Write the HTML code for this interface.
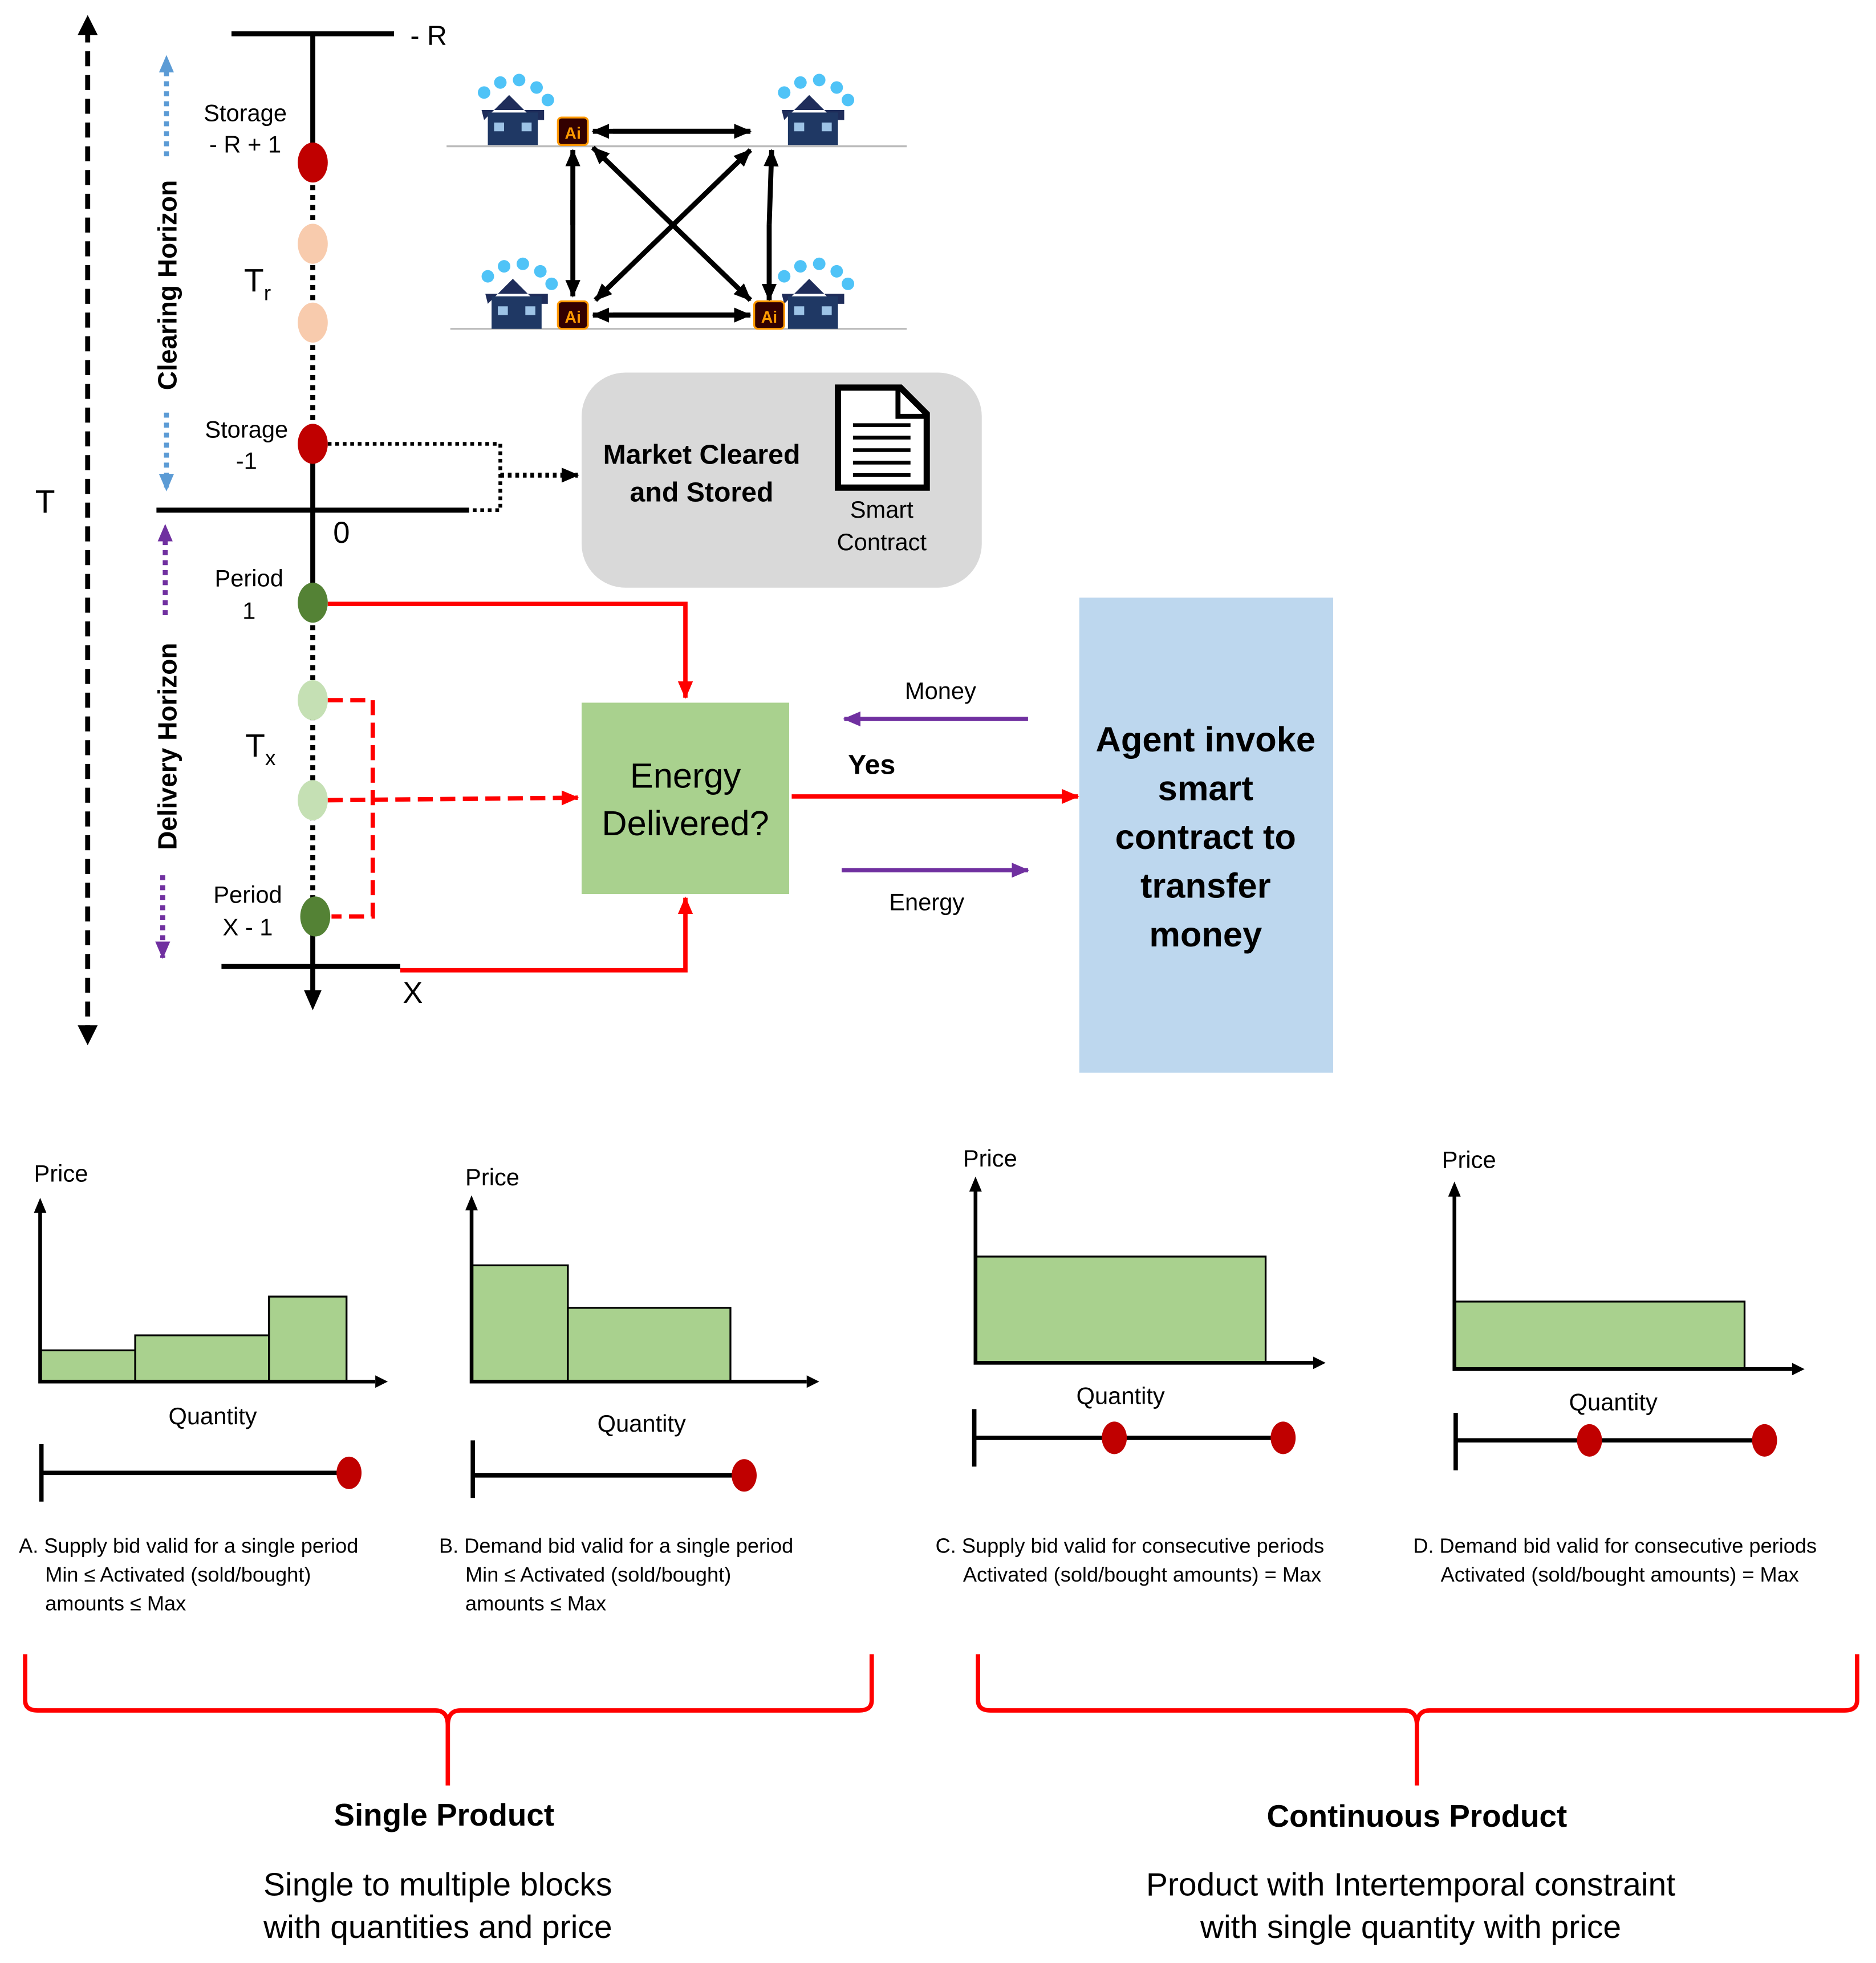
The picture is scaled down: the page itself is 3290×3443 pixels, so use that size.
<!DOCTYPE html>
<html><head><meta charset="utf-8"><style>
html,body{margin:0;padding:0;background:#fff}
svg{display:block}
text{font-family:"Liberation Sans",sans-serif}
</style></head><body>
<svg width="3290" height="3443" viewBox="0 0 1500 1570" xmlns="http://www.w3.org/2000/svg">
<defs>
<marker id="akL" markerWidth="14" markerHeight="12" refX="13" refY="6" orient="auto" markerUnits="userSpaceOnUse"><path d="M0,0 L14,6 L0,12z" fill="#000"/></marker>
<marker id="ar" markerWidth="14" markerHeight="12" refX="13" refY="6" orient="auto" markerUnits="userSpaceOnUse"><path d="M0,0 L14,6 L0,12z" fill="#f00"/></marker>
<marker id="ap" markerWidth="14" markerHeight="12" refX="13" refY="6" orient="auto" markerUnits="userSpaceOnUse"><path d="M0,0 L14,6 L0,12z" fill="#7030a0"/></marker>
<marker id="ab" markerWidth="14" markerHeight="12" refX="13" refY="6" orient="auto" markerUnits="userSpaceOnUse"><path d="M0,0 L14,6 L0,12z" fill="#5b9bd5"/></marker>
<g id="house">
<circle cx="-18" cy="-22" r="5" fill="#4fc3f7"/><circle cx="-5" cy="-30" r="5" fill="#4fc3f7"/><circle cx="10" cy="-32" r="5" fill="#4fc3f7"/><circle cx="24" cy="-26" r="5" fill="#4fc3f7"/><circle cx="33" cy="-16" r="5" fill="#4fc3f7"/>
<path d="M-18,0 L2,-20 L22,0 L30,0 L30,-8 L-20,-8z" fill="#1f2d5a"/>
<rect x="-15" y="-6" width="40" height="26" fill="#1f3864"/>
<rect x="-10" y="2" width="8" height="7" fill="#9dc3e6"/><rect x="12" y="2" width="8" height="7" fill="#9dc3e6"/>
</g>
<g id="ai"><rect x="-12" y="-11" width="24" height="22" rx="3" fill="#330000" stroke="#f90" stroke-width="1.5"/><text x="0" y="6" font-size="13" font-weight="bold" fill="#f90" text-anchor="middle">Ai</text></g>
</defs>

<line x1="70" y1="22" x2="70" y2="826" stroke="#000" stroke-width="4" stroke-dasharray="12,7"/>
<path d="M62,28 L70,12 L78,28z M62,820 L70,836 L78,820z" fill="#000"/>
<text x="36" y="410" font-size="26" text-anchor="middle">T</text>

<line x1="185" y1="27" x2="315" y2="27" stroke="#000" stroke-width="4"/>
<text x="328" y="36" font-size="22">- R</text>
<line x1="250" y1="27" x2="250" y2="118" stroke="#000" stroke-width="4"/>
<line x1="250" y1="140" x2="250" y2="345" stroke="#000" stroke-width="4" stroke-dasharray="4,4"/>
<line x1="250" y1="365" x2="250" y2="472" stroke="#000" stroke-width="4"/>
<line x1="250" y1="492" x2="250" y2="722" stroke="#000" stroke-width="4" stroke-dasharray="4,4"/>
<line x1="250" y1="745" x2="250" y2="795" stroke="#000" stroke-width="4"/>
<path d="M243,792 L250,808 L257,792z" fill="#000"/>
<line x1="125" y1="408" x2="375" y2="408" stroke="#000" stroke-width="4"/>
<text x="273" y="434" font-size="24" text-anchor="middle">0</text>
<line x1="177" y1="773" x2="320" y2="773" stroke="#000" stroke-width="4"/>
<text x="330" y="802" font-size="24" text-anchor="middle">X</text>

<line x1="133" y1="125" x2="133" y2="45" stroke="#5b9bd5" stroke-width="4" stroke-dasharray="4,4" marker-end="url(#ab)"/>
<line x1="133" y1="330" x2="133" y2="392" stroke="#5b9bd5" stroke-width="4" stroke-dasharray="4,4" marker-end="url(#ab)"/>
<text transform="translate(141,228) rotate(-90)" font-size="21" font-weight="bold" text-anchor="middle">Clearing Horizon</text>
<line x1="132" y1="492" x2="132" y2="420" stroke="#7030a0" stroke-width="4" stroke-dasharray="4,4" marker-end="url(#ap)"/>
<line x1="130" y1="700" x2="130" y2="766" stroke="#7030a0" stroke-width="4" stroke-dasharray="4,4" marker-end="url(#ap)"/>
<text transform="translate(141,597) rotate(-90)" font-size="21" font-weight="bold" text-anchor="middle">Delivery Horizon</text>

<g font-size="19" text-anchor="middle">
<text x="196" y="97">Storage</text><text x="196" y="122">- R + 1</text>
<text x="197" y="350">Storage</text><text x="197" y="375">-1</text>
<text x="199" y="469">Period</text><text x="199" y="495">1</text>
<text x="198" y="722">Period</text><text x="198" y="748">X - 1</text>
</g>
<text x="195" y="233" font-size="26">T<tspan font-size="17" dy="7">r</tspan></text>
<text x="196" y="605" font-size="26">T<tspan font-size="17" dy="7">x</tspan></text>

<ellipse cx="250" cy="130" rx="12" ry="16" fill="#c00000"/>
<ellipse cx="250" cy="355" rx="12" ry="16" fill="#c00000"/>
<ellipse cx="250" cy="195" rx="12" ry="16" fill="#f8cbad"/>
<ellipse cx="250" cy="258" rx="12" ry="16" fill="#f8cbad"/>
<ellipse cx="250" cy="482" rx="12" ry="16" fill="#548235"/>
<ellipse cx="252" cy="733" rx="12" ry="16" fill="#548235"/>
<ellipse cx="250" cy="560" rx="12" ry="16" fill="#c5e0b4"/>
<ellipse cx="250" cy="640" rx="12" ry="16" fill="#c5e0b4"/>

<polyline points="262,355 400,355 400,408 375,408" fill="none" stroke="#000" stroke-width="3" stroke-dasharray="3,3"/>
<line x1="400" y1="380" x2="462" y2="380" stroke="#000" stroke-width="4" stroke-dasharray="3,3" marker-end="url(#akL)"/>

<rect x="465" y="298" width="320" height="172" rx="35" fill="#d9d9d9"/>
<text x="561" y="371" font-size="22" font-weight="bold" text-anchor="middle">Market Cleared</text>
<text x="561" y="401" font-size="22" font-weight="bold" text-anchor="middle">and Stored</text>
<path d="M670,310 L720,310 L741,331 L741,390 L670,390z" fill="#fff" stroke="#000" stroke-width="5"/>
<path d="M718,310 L718,333 L741,333" fill="none" stroke="#000" stroke-width="4"/>
<g stroke="#000" stroke-width="3"><line x1="682" y1="340" x2="728" y2="340"/><line x1="682" y1="350" x2="728" y2="350"/><line x1="682" y1="360" x2="728" y2="360"/><line x1="682" y1="370" x2="728" y2="370"/><line x1="682" y1="380" x2="728" y2="380"/></g>
<text x="705" y="414" font-size="19" text-anchor="middle">Smart</text>
<text x="705" y="440" font-size="19" text-anchor="middle">Contract</text>

<line x1="357" y1="117" x2="725" y2="117" stroke="#bbb" stroke-width="1.5"/>
<line x1="360" y1="263" x2="725" y2="263" stroke="#bbb" stroke-width="1.5"/>
<use href="#house" x="405" y="96"/><use href="#house" x="645" y="96"/>
<use href="#house" x="408" y="243"/><use href="#house" x="645" y="243"/>
<use href="#ai" x="458" y="105"/><use href="#ai" x="458" y="252"/><use href="#ai" x="615" y="252"/>
<g stroke="#000" stroke-width="4">
<line x1="490" y1="105" x2="600" y2="105" marker-end="url(#akL)"/><line x1="600" y1="105" x2="474" y2="105" marker-end="url(#akL)"/>
<line x1="490" y1="252" x2="600" y2="252" marker-end="url(#akL)"/><line x1="590" y1="252" x2="474" y2="252" marker-end="url(#akL)"/>
<line x1="458" y1="160" x2="458" y2="237" marker-end="url(#akL)"/><line x1="458" y1="180" x2="458" y2="120" marker-end="url(#akL)"/>
<line x1="615" y1="180" x2="615" y2="240" marker-end="url(#akL)"/><line x1="615" y1="180" x2="617" y2="120" marker-end="url(#akL)"/>
<line x1="538" y1="180" x2="600" y2="120" marker-end="url(#akL)"/><line x1="538" y1="180" x2="476" y2="240" marker-end="url(#akL)"/>
<line x1="538" y1="180" x2="474" y2="118" marker-end="url(#akL)"/><line x1="538" y1="180" x2="600" y2="240" marker-end="url(#akL)"/>
</g>

<polyline points="262,483 548,483 548,558" fill="none" stroke="#f00" stroke-width="3.5" marker-end="url(#ar)"/>
<polyline points="262,560 298,560 298,733 265,733" fill="none" stroke="#f00" stroke-width="3.5" stroke-dasharray="12,6"/>
<line x1="262" y1="640" x2="462" y2="638" stroke="#f00" stroke-width="3.5" stroke-dasharray="12,6" marker-end="url(#ar)"/>
<polyline points="320,776 548,776 548,718" fill="none" stroke="#f00" stroke-width="3.5" marker-end="url(#ar)"/>

<rect x="465" y="562" width="166" height="153" fill="#a9d18e"/>
<text x="548" y="630" font-size="28" text-anchor="middle">Energy</text>
<text x="548" y="668" font-size="28" text-anchor="middle">Delivered?</text>

<line x1="822" y1="575" x2="675" y2="575" stroke="#7030a0" stroke-width="3.5" marker-end="url(#ap)"/>
<text x="752" y="559" font-size="19" text-anchor="middle">Money</text>
<text x="697" y="619" font-size="22" font-weight="bold" text-anchor="middle">Yes</text>
<line x1="633" y1="637" x2="862" y2="637" stroke="#f00" stroke-width="3.5" marker-end="url(#ar)"/>
<line x1="673" y1="696" x2="822" y2="696" stroke="#7030a0" stroke-width="3.5" marker-end="url(#ap)"/>
<text x="741" y="728" font-size="19" text-anchor="middle">Energy</text>

<rect x="863" y="478" width="203" height="380" fill="#bdd7ee"/>
<g font-size="28" font-weight="bold" text-anchor="middle">
<text x="964" y="601">Agent invoke</text><text x="964" y="640">smart</text><text x="964" y="679">contract to</text><text x="964" y="718">transfer</text><text x="964" y="757">money</text>
</g>

<g stroke="#000" stroke-width="1.5" fill="#a9d18e">
<rect x="32" y="1080" width="76" height="25"/><rect x="108" y="1068" width="107" height="37"/><rect x="215" y="1037" width="62" height="68"/>
<rect x="377" y="1012" width="77" height="93"/><rect x="454" y="1046" width="130" height="59"/>
<rect x="780" y="1005" width="232" height="85"/>
<rect x="1163" y="1041" width="232" height="54"/>
</g>
<g stroke="#000" stroke-width="3" fill="none">
<polyline points="32,965 32,1105 300,1105"/>
<polyline points="377,963 377,1105 645,1105"/>
<polyline points="780,948 780,1090 1050,1090"/>
<polyline points="1163,952 1163,1095 1433,1095"/>
</g>
<g fill="#000">
<path d="M27,970 L32,958 L37,970z M300,1100 L310,1105 L300,1110z"/>
<path d="M372,968 L377,956 L382,968z M645,1100 L655,1105 L645,1110z"/>
<path d="M775,953 L780,941 L785,953z M1050,1085 L1060,1090 L1050,1095z"/>
<path d="M1158,957 L1163,945 L1168,957z M1433,1090 L1443,1095 L1433,1100z"/>
</g>
<g font-size="19">
<text x="27" y="945">Price</text><text x="372" y="948">Price</text><text x="770" y="933">Price</text><text x="1153" y="934">Price</text>
</g>
<g font-size="19" text-anchor="middle">
<text x="170" y="1139">Quantity</text><text x="513" y="1145">Quantity</text><text x="896" y="1123">Quantity</text><text x="1290" y="1128">Quantity</text>
</g>
<g stroke="#000" stroke-width="3.5">
<line x1="33" y1="1155" x2="33" y2="1201"/><line x1="33" y1="1178" x2="279" y2="1178"/>
<line x1="378" y1="1152" x2="378" y2="1198"/><line x1="378" y1="1180" x2="595" y2="1180"/>
<line x1="779" y1="1127" x2="779" y2="1173"/><line x1="779" y1="1150" x2="1026" y2="1150"/>
<line x1="1164" y1="1130" x2="1164" y2="1176"/><line x1="1164" y1="1152" x2="1411" y2="1152"/>
</g>
<g fill="#c00000">
<ellipse cx="279" cy="1178" rx="10" ry="13"/><ellipse cx="595" cy="1180" rx="10" ry="13"/>
<ellipse cx="891" cy="1150" rx="10" ry="13"/><ellipse cx="1026" cy="1150" rx="10" ry="13"/>
<ellipse cx="1271" cy="1152" rx="10" ry="13"/><ellipse cx="1411" cy="1152" rx="10" ry="13"/>
</g>
<g font-size="16.5">
<text x="15" y="1242">A. Supply bid valid for a single period</text><text x="36" y="1265">Min ≤ Activated (sold/bought)</text><text x="36" y="1288">amounts ≤ Max</text>
<text x="351" y="1242">B. Demand bid valid for a single period</text><text x="372" y="1265">Min ≤ Activated (sold/bought)</text><text x="372" y="1288">amounts ≤ Max</text>
<text x="748" y="1242">C. Supply bid valid for consecutive periods</text><text x="770" y="1265">Activated (sold/bought amounts) = Max</text>
<text x="1130" y="1242">D. Demand bid valid for consecutive periods</text><text x="1152" y="1265">Activated (sold/bought amounts) = Max</text>
</g>

<g fill="none" stroke="#f00" stroke-width="3.5">
<path d="M20,1323 L20,1360 Q20,1368 30,1368 L348,1368 Q358,1368 358,1380 L358,1428 M358,1380 Q358,1368 368,1368 L687,1368 Q697,1368 697,1360 L697,1323"/>
<path d="M782,1323 L782,1360 Q782,1368 792,1368 L1123,1368 Q1133,1368 1133,1380 L1133,1428 M1133,1380 Q1133,1368 1143,1368 L1475,1368 Q1485,1368 1485,1360 L1485,1323"/>
</g>
<g text-anchor="middle">
<text x="355" y="1460" font-size="25" font-weight="bold">Single Product</text>
<text x="350" y="1516" font-size="26">Single to multiple blocks</text>
<text x="350" y="1550" font-size="26">with quantities and price</text>
<text x="1133" y="1461" font-size="25" font-weight="bold">Continuous Product</text>
<text x="1128" y="1516" font-size="26">Product with Intertemporal constraint</text>
<text x="1128" y="1550" font-size="26">with single quantity with price</text>
</g>
</svg>
</body></html>
